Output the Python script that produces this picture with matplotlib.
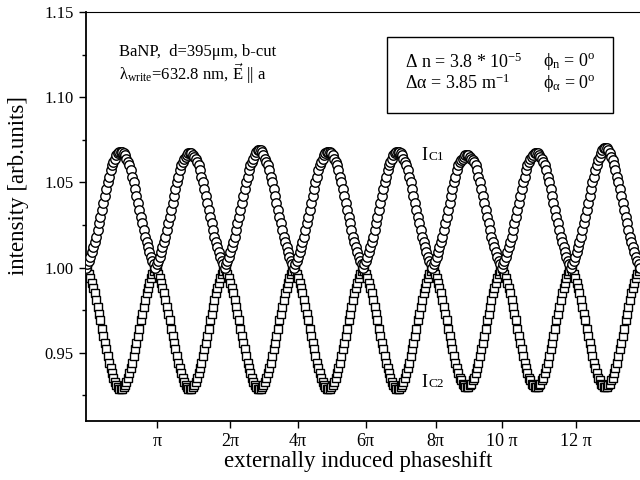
import numpy as np
import matplotlib
matplotlib.use("Agg")
import matplotlib.pyplot as plt
from matplotlib.patches import Rectangle

plt.rcParams['font.family'] = ['Liberation Serif', 'DejaVu Serif']
plt.rcParams['mathtext.fontset'] = 'custom'
plt.rcParams['mathtext.rm'] = 'Liberation Serif'
plt.rcParams['mathtext.it'] = 'Liberation Serif:italic'
plt.rcParams['mathtext.bf'] = 'Liberation Serif:bold'

# Ic1 (circles): deviation above 1.00, in units of 0.001, one line per hump
ic1_offsets = [
    0,2,4,6,9,12,15,18,22,26,30,34,38,42,46,50,53,57,60,62,64,66,67,68,68,68,67,66,64,62,60,57,53,50,46,42,38,34,30,26,22,18,15,12,9,6,4,2,
    0,2,4,6,9,12,15,18,22,26,30,34,38,42,46,50,53,57,60,62,64,65,66,67,67,67,66,65,64,62,60,57,53,50,46,42,38,34,30,26,22,18,15,12,9,6,4,2,
    0,2,4,6,9,12,15,18,22,26,30,34,38,42,46,50,53,57,60,62,64,66,68,69,69,69,68,66,64,62,60,57,53,50,46,42,38,34,30,26,22,18,15,12,9,6,4,2,
    0,2,4,6,9,12,15,18,22,26,30,34,38,42,46,50,53,57,60,62,64,66,67,68,68,68,67,66,64,62,60,57,53,50,46,42,38,34,30,26,22,18,15,12,9,6,4,2,
    0,2,4,6,9,12,15,18,22,26,30,34,38,42,46,50,53,57,60,62,64,66,67,68,68,68,67,66,64,62,60,57,53,50,46,42,38,34,30,26,22,18,15,12,9,6,4,2,
    0,2,4,6,9,12,15,18,22,26,30,34,38,42,46,50,53,57,60,62,63,64,65,66,66,66,65,64,63,62,60,57,53,50,46,42,38,34,30,26,22,18,15,12,9,6,4,2,
    0,2,4,6,9,12,15,18,22,26,30,34,38,42,46,50,53,57,60,62,64,65,66,67,67,67,66,65,64,62,60,57,53,50,46,42,38,34,30,26,22,18,15,12,9,6,4,2,
    0,2,4,6,9,12,15,18,22,26,30,34,38,42,46,50,53,57,60,63,65,67,69,70,70,70,69,67,65,63,60,57,53,50,46,42,38,34,30,26,22,18,15,12,9,6,4,2,
    0,
]

# Ic2 (squares): deviation below 1.00, in units of 0.001, one line per hump
ic2_offsets = [
    0,2,4,6,9,12,15,19,23,27,31,36,40,44,48,52,56,59,62,65,67,69,70,71,71,71,70,69,67,65,62,59,56,52,48,44,40,36,31,27,23,19,15,12,9,6,4,2,
    0,2,4,6,9,12,15,19,23,27,31,36,40,44,48,52,56,59,62,65,67,69,70,71,71,71,70,69,67,65,62,59,56,52,48,44,40,36,31,27,23,19,15,12,9,6,4,2,
    0,2,4,6,9,12,15,19,23,27,31,36,40,44,48,52,56,59,62,65,67,69,70,71,71,71,70,69,67,65,62,59,56,52,48,44,40,36,31,27,23,19,15,12,9,6,4,2,
    0,2,4,6,9,12,15,19,23,27,31,36,40,44,48,52,56,59,62,65,67,69,70,71,71,71,70,69,67,65,62,59,56,52,48,44,40,36,31,27,23,19,15,12,9,6,4,2,
    0,2,4,6,9,12,15,19,23,27,31,36,40,44,48,52,56,59,62,65,67,69,70,71,71,71,70,69,67,65,62,59,56,52,48,44,40,36,31,27,23,19,15,12,9,6,4,2,
    0,2,4,6,9,12,15,19,23,27,31,36,40,44,48,52,56,59,62,65,66,68,69,70,70,70,69,68,66,65,62,59,56,52,48,44,40,36,31,27,23,19,15,12,9,6,4,2,
    0,2,4,6,9,12,15,19,23,27,31,36,40,44,48,52,56,59,62,65,66,68,69,70,70,70,69,68,66,65,62,59,56,52,48,44,40,36,31,27,23,19,15,12,9,6,4,2,
    0,2,4,6,9,12,15,19,23,27,31,36,40,44,48,52,56,59,62,65,66,68,69,70,70,70,69,68,66,65,62,59,56,52,48,44,40,36,31,27,23,19,15,12,9,6,4,2,
    0,
]

n_periods = 8
tick_pos = [1.03, 2.08, 3.06, 4.04, 5.05, 6.01, 7.08]
tick_labels = ['π', '2π', '4π', '6π', '8π', '10 π', '12 π']
y_ticks = [0.95, 1.00, 1.05, 1.10, 1.15]

ic1 = 1.0 + np.array(ic1_offsets) / 1000.0
ic2 = 1.0 - np.array(ic2_offsets) / 1000.0
phase = np.linspace(0, n_periods, len(ic1))

fig = plt.figure(figsize=(6.4, 4.8), dpi=100)
ax = fig.add_axes([86/640, 59/480, 554/640, 409/480])

ax.plot(phase, ic2, ls='none', marker='s', ms=6.2, mfc='white', mec='black', mew=1.0, zorder=3)
ax.plot(phase, ic1, ls='none', marker='o', ms=6.8, mfc='white', mec='black', mew=1.0, zorder=4)

ax.set_xlim(0, n_periods)
ax.set_ylim(0.910, 1.15)
ax.set_xticks(tick_pos)
ax.set_xticklabels(tick_labels, fontsize=13)
ax.set_yticks(y_ticks)
ax.set_yticklabels(['%.2f' % v for v in y_ticks], fontsize=12)
ax.set_yticks([0.925, 0.975, 1.025, 1.075, 1.125], minor=True)
ax.tick_params(axis='both', which='major', direction='out', length=5, width=1.0, pad=4)
ax.tick_params(axis='y', which='minor', direction='out', length=3, width=1.0)
ax.spines['right'].set_visible(False)
for s in ['left', 'bottom']:
    ax.spines[s].set_linewidth(1.3)
ax.spines['top'].set_linewidth(0.8)

ax.text(-0.121, 0.575, 'intensity [arb.units]', rotation=90, ha='center', va='center',
        fontsize=16.5, transform=ax.transAxes)
ax.text(0.491, -0.098, 'externally induced phaseshift', ha='center', va='center',
        fontsize=16.5, transform=ax.transAxes)

ax.text(0.0596, 0.902, 'BaNP,  d=395μm, b-cut', fontsize=12, ha='left', va='center', transform=ax.transAxes)
ax.text(0.0596, 0.848, r'$\mathrm{\lambda_{write}}$=632.8 nm, $\vec{\mathrm{E}}$ || a', fontsize=12,
        ha='left', va='center', transform=ax.transAxes)

ax.add_patch(Rectangle((0.543, 0.753), 0.408, 0.186, transform=ax.transAxes,
                       fill=False, ec='black', lw=1.0, zorder=5))
ax.text(0.576, 0.878, r'Δ n = 3.8 * 10$^{\mathrm{-5}}$', fontsize=13, ha='left', va='center', transform=ax.transAxes)
ax.text(0.576, 0.826, r'Δα = 3.85 m$^{\mathrm{-1}}$', fontsize=13, ha='left', va='center', transform=ax.transAxes)
ax.text(0.825, 0.878, r'$\mathrm{\phi_n}$ = 0$^{\mathrm{o}}$', fontsize=13, ha='left', va='center', transform=ax.transAxes)
ax.text(0.825, 0.826, r'$\mathrm{\phi_\alpha}$ = 0$^{\mathrm{o}}$', fontsize=13, ha='left', va='center', transform=ax.transAxes)

ax.text(0.606, 0.650, 'I', fontsize=13, ha='left', va='center', transform=ax.transAxes)
ax.text(0.619, 0.646, 'C1', fontsize=9.5, ha='left', va='center', transform=ax.transAxes)
ax.text(0.605, 0.095, 'I', fontsize=13, ha='left', va='center', transform=ax.transAxes)
ax.text(0.618, 0.091, 'C2', fontsize=9.5, ha='left', va='center', transform=ax.transAxes)

fig.savefig('out.png', dpi=100)
